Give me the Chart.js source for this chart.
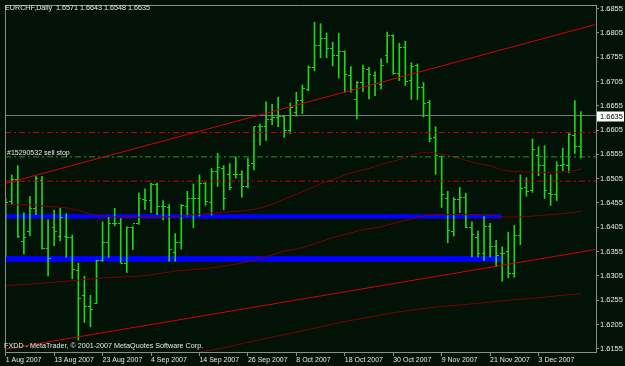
<!DOCTYPE html>
<html>
<head>
<meta charset="utf-8">
<script src="https://cdn.jsdelivr.net/npm/chart.js@4.4.0/dist/chart.umd.min.js"></script>
<style>
  html, body { margin: 0; padding: 0; background: #021207; }
  #wrap { position: relative; width: 625px; height: 366px; }
</style>
</head>
<body>
<div id="wrap"><canvas id="chart" width="625" height="366"></canvas></div>
<script>
// EURCHF daily bars, index 0 = 1 Aug 2007, last = 12 Dec 2007
const opens = [
  1.6357, 1.6459, 1.6504, 1.6375, 1.6397, 1.6444, 1.6501, 1.6362, 1.6404, 1.6386,
  1.6386, 1.6384, 1.6316, 1.6265, 1.6241, 1.6248, 1.6336, 1.6374, 1.6412, 1.6412,
  1.6331, 1.6404, 1.6412, 1.6462, 1.6461, 1.6494, 1.6448, 1.6445, 1.6353, 1.6374,
  1.6448, 1.6464, 1.6465, 1.6496, 1.6456, 1.6520, 1.6526, 1.6513, 1.6513, 1.6513,
  1.6489, 1.6537, 1.6612, 1.6612, 1.6627, 1.6630, 1.6634, 1.6605, 1.6642, 1.6666,
  1.6688, 1.6734, 1.6780, 1.6793, 1.6773, 1.6759, 1.6766, 1.6717, 1.6669, 1.6702,
  1.6729, 1.6718, 1.6699, 1.6759, 1.6800, 1.6722, 1.6775, 1.6707, 1.6737, 1.6693,
  1.6661, 1.6589, 1.6550, 1.6464, 1.6397, 1.6462, 1.6467, 1.6404, 1.6384, 1.6352,
  1.6407, 1.6366, 1.6350, 1.6356, 1.6309, 1.6389, 1.6486, 1.6480, 1.6552, 1.6532,
  1.6475, 1.6473, 1.6533, 1.6532, 1.6594, 1.6571
];
const highs = [
  1.6464, 1.6513, 1.6532, 1.6435, 1.6468, 1.6510, 1.6510, 1.6421, 1.6440, 1.6444,
  1.6433, 1.6389, 1.6331, 1.6304, 1.6265, 1.6337, 1.6416, 1.6428, 1.6444, 1.6423,
  1.6406, 1.6406, 1.6476, 1.6484, 1.6496, 1.6496, 1.6460, 1.6452, 1.6392, 1.6452,
  1.6479, 1.6494, 1.6513, 1.6497, 1.6526, 1.6557, 1.6532, 1.6536, 1.6550, 1.6521,
  1.6547, 1.6612, 1.6618, 1.6663, 1.6658, 1.6673, 1.6635, 1.6661, 1.6683, 1.6698,
  1.6737, 1.6827, 1.6824, 1.6805, 1.6786, 1.6804, 1.6768, 1.6736, 1.6705, 1.6739,
  1.6734, 1.6725, 1.6752, 1.6807, 1.6801, 1.6784, 1.6788, 1.6744, 1.6741, 1.6703,
  1.6666, 1.6612, 1.6552, 1.6479, 1.6466, 1.6487, 1.6475, 1.6416, 1.6397, 1.6427,
  1.6413, 1.6378, 1.6365, 1.6395, 1.6409, 1.6513, 1.6507, 1.6587, 1.6571, 1.6573,
  1.6513, 1.6540, 1.6568, 1.6598, 1.6666, 1.6643
];
const lows = [
  1.6345, 1.6452, 1.6384, 1.6350, 1.6387, 1.6431, 1.6360, 1.6305, 1.6367, 1.6377,
  1.6343, 1.6299, 1.6173, 1.6209, 1.6200, 1.6248, 1.6335, 1.6343, 1.6408, 1.6331,
  1.6312, 1.6359, 1.6411, 1.6442, 1.6435, 1.6431, 1.6420, 1.6335, 1.6335, 1.6360,
  1.6428, 1.6404, 1.6428, 1.6450, 1.6430, 1.6489, 1.6441, 1.6482, 1.6506, 1.6467,
  1.6486, 1.6523, 1.6574, 1.6584, 1.6616, 1.6612, 1.6590, 1.6598, 1.6634, 1.6639,
  1.6686, 1.6727, 1.6754, 1.6754, 1.6737, 1.6712, 1.6683, 1.6683, 1.6628, 1.6684,
  1.6669, 1.6676, 1.6690, 1.6744, 1.6720, 1.6707, 1.6697, 1.6668, 1.6668, 1.6632,
  1.6581, 1.6514, 1.6446, 1.6373, 1.6387, 1.6435, 1.6404, 1.6344, 1.6344, 1.6337,
  1.6344, 1.6324, 1.6294, 1.6301, 1.6302, 1.6369, 1.6469, 1.6477, 1.6511, 1.6464,
  1.6450, 1.6460, 1.6521, 1.6518, 1.6557, 1.6548
];
const closes = [
  1.6455, 1.6504, 1.6386, 1.6384, 1.6444, 1.6506, 1.6362, 1.6340, 1.6397, 1.6426,
  1.6384, 1.6319, 1.6258, 1.6241, 1.6236, 1.6336, 1.6374, 1.6412, 1.6412, 1.6331,
  1.6404, 1.6412, 1.6465, 1.6461, 1.6494, 1.6448, 1.6448, 1.6360, 1.6374, 1.6450,
  1.6465, 1.6464, 1.6496, 1.6458, 1.6520, 1.6528, 1.6465, 1.6486, 1.6513, 1.6489,
  1.6533, 1.6612, 1.6612, 1.6627, 1.6630, 1.6634, 1.6605, 1.6652, 1.6666, 1.6690,
  1.6734, 1.6780, 1.6793, 1.6773, 1.6758, 1.6766, 1.6720, 1.6688, 1.6702, 1.6732,
  1.6720, 1.6700, 1.6739, 1.6800, 1.6722, 1.6776, 1.6705, 1.6736, 1.6693, 1.6660,
  1.6588, 1.6552, 1.6473, 1.6399, 1.6462, 1.6467, 1.6404, 1.6390, 1.6351, 1.6407,
  1.6366, 1.6346, 1.6350, 1.6310, 1.6389, 1.6484, 1.6479, 1.6565, 1.6532, 1.6481,
  1.6473, 1.6532, 1.6535, 1.6596, 1.6571, 1.6635
];

// moving averages (bar index -> price)
const maFastBars = [0, 3, 7, 10, 12, 14, 16, 20, 24, 28, 32, 36, 40, 43, 46, 48, 50, 52, 54, 56, 58, 60, 62, 64, 66, 68, 70, 72, 74, 76, 78, 80, 82, 84, 86, 88, 90, 92, 94, 95];
const maFastValues = [1.6451, 1.6452, 1.6448, 1.6445, 1.6440, 1.6432, 1.6428, 1.6426, 1.6426, 1.6427, 1.6432, 1.6436, 1.6440, 1.6448, 1.6463, 1.6473, 1.6483, 1.6495, 1.6503, 1.6513, 1.6520, 1.6526, 1.6534, 1.6541, 1.6548, 1.6557, 1.6559, 1.6556, 1.6550, 1.6543, 1.6536, 1.6532, 1.6523, 1.6520, 1.6519, 1.6518, 1.6518, 1.6519, 1.6522, 1.6525];
const maMidBars = [0, 4, 8, 12, 16, 20, 24, 28, 32, 36, 40, 42, 44, 46, 48, 50, 52, 54, 56, 58, 60, 62, 64, 66, 68, 70, 72, 76, 78, 80, 82, 84, 86, 88, 90, 92, 94, 95];
const maMidValues = [1.6285, 1.6288, 1.6292, 1.6296, 1.6301, 1.6303, 1.6307, 1.6315, 1.6319, 1.6325, 1.6334, 1.6340, 1.6348, 1.6356, 1.6360, 1.6367, 1.6375, 1.6384, 1.6390, 1.6397, 1.6402, 1.6406, 1.6413, 1.6419, 1.6426, 1.6430, 1.6431, 1.6431, 1.6431, 1.6430, 1.6427, 1.6426, 1.6427, 1.6429, 1.6431, 1.6433, 1.6436, 1.6438];
const maSlowBars = [28, 32, 36, 40, 44, 48, 52, 56, 60, 64, 68, 72, 76, 80, 84, 88, 92, 95];
const maSlowValues = [1.6138, 1.6148, 1.6157, 1.6168, 1.6179, 1.6189, 1.6200, 1.6211, 1.6220, 1.6229, 1.6236, 1.6242, 1.6246, 1.6251, 1.6256, 1.6260, 1.6265, 1.6268];

// trend lines: [start bar, end bar], [start price, end price]
const trendBars = [-0.1, 97.3];
const trendUpper = [1.6495, 1.6822];
const trendLower = [1.6154, 1.6359];

// horizontal levels and zones
const stopLevels = [1.6600, 1.6500];
const orderLevel = 1.6550;
const orderText = '#15290532 sell stop';
const bidPrice = 1.6635;
const zoneTops = [1.6432, 1.6346];
const zoneBottoms = [1.6423, 1.6334];
const zoneEndBar = 81.9;

// axes
const dateTickBars = [0, 8, 16, 24, 32, 40, 48, 56, 64, 72, 80, 88];
const dateTickLabels = ['1 Aug 2007', '13 Aug 2007', '23 Aug 2007', '4 Sep 2007', '14 Sep 2007', '26 Sep 2007',
  '8 Oct 2007', '18 Oct 2007', '30 Oct 2007', '9 Nov 2007', '21 Nov 2007', '3 Dec 2007'];
const priceTicks = [1.6155, 1.6205, 1.6255, 1.6305, 1.6355, 1.6405, 1.6455, 1.6505, 1.6555, 1.6605, 1.6655, 1.6705, 1.6755, 1.6805, 1.6855];

const X_MIN = -0.115;
const X_MAX = 97.49;
const Y_MIN = 1.614827;
const Y_MAX = 1.686255;

const FONT = '"Liberation Sans", Arial, sans-serif';
const TEXT = '#e8e8e8';
const FRAME = '#8c8c8c';
const BAR_COLOR = '#1ed41e';
const MA_COLOR = '#7c0000';
const TREND_COLOR = '#d40000';
const ZONE_COLOR = '#0000ff';

function tickImage(left) {
  const c = document.createElement('canvas');
  c.width = 5;
  c.height = 1;
  const g = c.getContext('2d');
  g.fillStyle = BAR_COLOR;
  g.fillRect(left ? 0 : 3, 0, 2, 1);
  return c;
}

const pts = (xs, ys) => xs.map((x, i) => ({ x, y: ys[i] }));
const hline = (v) => [{ x: X_MIN, y: v }, { x: X_MAX, y: v }];

const overlay = {
  id: 'overlay',
  beforeDatasetsDraw(chart) {
    const { ctx, chartArea: a, scales: { x, y } } = chart;
    ctx.save();
    ctx.beginPath();
    ctx.rect(a.left, a.top, a.right - a.left, a.bottom - a.top);
    ctx.clip();
    ctx.fillStyle = ZONE_COLOR;
    zoneTops.forEach((top, k) => {
      const y0 = y.getPixelForValue(top);
      const y1 = y.getPixelForValue(zoneBottoms[k]);
      const x0 = x.getPixelForValue(X_MIN);
      const x1 = x.getPixelForValue(zoneEndBar);
      ctx.fillRect(x0, y0, x1 - x0, y1 - y0);
    });
    ctx.restore();
    ctx.imageSmoothingEnabled = false;
  },
  afterDraw(chart) {
    const { ctx, chartArea: a, scales: { y } } = chart;
    const last = closes.length - 1;
    ctx.save();
    // frame (left / top)
    ctx.strokeStyle = FRAME;
    ctx.lineWidth = 1;
    ctx.beginPath();
    ctx.moveTo(a.left + 0.5, a.bottom);
    ctx.lineTo(a.left + 0.5, a.top + 0.5);
    ctx.lineTo(a.right, a.top + 0.5);
    ctx.stroke();

    ctx.fillStyle = TEXT;
    ctx.textBaseline = 'middle';
    ctx.textAlign = 'left';
    ctx.font = `7.2px ${FONT}`;
    const ohlc = [opens[last], highs[last], lows[last], closes[last]].map(v => v.toFixed(4)).join(' ');
    ctx.fillText(`EURCHF,Daily  ${ohlc}`, 5, 8);
    ctx.font = `7px ${FONT}`;
    ctx.fillText(orderText, 7, y.getPixelForValue(orderLevel) - 3.5);
    ctx.font = `7.2px ${FONT}`;
    ctx.fillText('FXDD - MetaTrader, \u00a9 2001-2007 MetaQuotes Software Corp.', 4, 346.5);

    // bid price label
    const py = y.getPixelForValue(bidPrice);
    ctx.fillStyle = '#ffffff';
    ctx.fillRect(a.right + 1, Math.round(py) - 4.5, 27, 10);
    ctx.fillStyle = '#000000';
    ctx.font = `7.5px ${FONT}`;
    ctx.fillText(bidPrice.toFixed(4), a.right + 4, Math.round(py) + 0.5);
    ctx.restore();
  }
};

const lineBase = { type: 'line', pointRadius: 0, borderWidth: 1, fill: false, tension: 0 };

new Chart(document.getElementById('chart'), {
  type: 'line',
  data: {
    datasets: [
      { ...lineBase, label: 'bid', data: hline(bidPrice), borderColor: '#787878', order: 9 },
      {
        type: 'bar', label: 'range',
        data: highs.map((h, i) => ({ x: i, y: [lows[i], h] })),
        backgroundColor: BAR_COLOR, borderWidth: 0, barThickness: 1, order: 7
      },
      {
        type: 'line', label: 'open', showLine: false,
        data: opens.map((v, i) => ({ x: i, y: v })),
        pointStyle: tickImage(true), pointRadius: 2, order: 6
      },
      {
        type: 'line', label: 'close', showLine: false,
        data: closes.map((v, i) => ({ x: i, y: v })),
        pointStyle: tickImage(false), pointRadius: 2, order: 6
      },
      { ...lineBase, label: 'ma fast', data: pts(maFastBars, maFastValues), borderColor: MA_COLOR, cubicInterpolationMode: 'monotone', order: 5 },
      { ...lineBase, label: 'ma mid', data: pts(maMidBars, maMidValues), borderColor: MA_COLOR, cubicInterpolationMode: 'monotone', order: 5 },
      { ...lineBase, label: 'ma slow', data: pts(maSlowBars, maSlowValues), borderColor: MA_COLOR, cubicInterpolationMode: 'monotone', order: 5 },
      ...stopLevels.map(v => ({ ...lineBase, label: 'level', data: hline(v), borderColor: '#d00000', borderDash: [6, 3, 2, 3], order: 3 })),
      { ...lineBase, label: 'order', data: hline(orderLevel), borderColor: '#1f9a1f', borderDash: [6, 3, 2, 3], order: 3 },
      { ...lineBase, label: 'trend up', data: pts(trendBars, trendUpper), borderColor: TREND_COLOR, order: 2 },
      { ...lineBase, label: 'trend low', data: pts(trendBars, trendLower), borderColor: TREND_COLOR, order: 2 }
    ]
  },
  options: {
    responsive: false,
    devicePixelRatio: 1,
    animation: false,
    events: [],
    layout: { padding: { left: 2, top: 2, right: 0, bottom: 0 } },
    plugins: { legend: { display: false }, tooltip: { enabled: false } },
    scales: {
      x: {
        type: 'linear',
        position: 'bottom',
        min: X_MIN,
        max: X_MAX,
        offset: false,
        grid: { display: true, drawOnChartArea: false, drawTicks: true, tickLength: 4, color: FRAME, offset: false },
        border: { display: true, color: FRAME },
        ticks: {
          color: TEXT,
          font: { family: FONT, size: 7 },
          align: 'start',
          autoSkip: false,
          maxRotation: 0,
          padding: 0,
          callback: (v) => dateTickLabels[dateTickBars.indexOf(v)]
        },
        afterBuildTicks: (axis) => { axis.ticks = dateTickBars.map(v => ({ value: v })); },
        afterFit: (s) => { s.height = 14; s.paddingLeft = 0; s.paddingRight = 0; }
      },
      y: {
        type: 'linear',
        position: 'right',
        min: Y_MIN,
        max: Y_MAX,
        grid: { display: true, drawOnChartArea: false, drawTicks: true, tickLength: 3, color: FRAME },
        border: { display: true, color: FRAME },
        ticks: {
          color: TEXT,
          font: { family: FONT, size: 7.5 },
          padding: 1,
          callback: (v) => v.toFixed(4)
        },
        afterBuildTicks: (axis) => { axis.ticks = priceTicks.map(v => ({ value: v })); },
        afterFit: (s) => { s.width = 29; s.paddingTop = 0; s.paddingBottom = 0; }
      }
    }
  },
  plugins: [overlay]
});
</script>
</body>
</html>
